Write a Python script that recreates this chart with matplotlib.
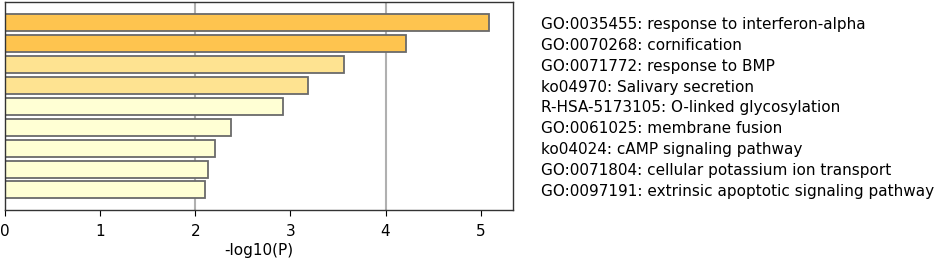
import matplotlib
matplotlib.use("Agg")
import matplotlib.pyplot as plt

plt.rcParams["font.family"] = ["DejaVu Sans"]

terms = [
    "GO:0035455: response to interferon-alpha",
    "GO:0070268: cornification",
    "GO:0071772: response to BMP",
    "ko04970: Salivary secretion",
    "R-HSA-5173105: O-linked glycosylation",
    "GO:0061025: membrane fusion",
    "ko04024: cAMP signaling pathway",
    "GO:0071804: cellular potassium ion transport",
    "GO:0097191: extrinsic apoptotic signaling pathway",
]
values = [5.09, 4.21, 3.56, 3.18, 2.92, 2.38, 2.21, 2.13, 2.10]
colors = ["#FEC44F", "#FEC44F", "#FEE391", "#FEE391",
          "#FFFFD4", "#FFFFD4", "#FFFFD4", "#FFFFD4", "#FFFFD4"]
xticks = [0, 1, 2, 3, 4, 5]
gridlines = [2, 4]

fig = plt.figure(figsize=(9.41, 2.6), dpi=100)
ax = fig.add_axes([5/941, 50/260, 508/941, 208/260])

ypos = list(range(len(terms)))
for g in gridlines:
    ax.axvline(g, color="#b0b0b0", lw=1.5, zorder=0)
ax.barh(ypos, values, height=0.81, color=colors, edgecolor="#6a6a6a",
        linewidth=1.3, zorder=2)

ax.set_xlim(0, 5.34)
ax.set_ylim(8.96, -1.0)
ax.set_xticks(xticks)
ax.set_xticklabels([str(t) for t in xticks], fontsize=11)
ax.set_xlabel("-log10(P)", fontsize=11, labelpad=3)
ax.yaxis.tick_right()
ax.set_yticks(ypos)
ax.set_yticklabels(terms, fontsize=11)
ax.tick_params(axis="y", length=0, pad=20)
ax.tick_params(axis="x", length=4, width=0.8, pad=6)
for s in ax.spines.values():
    s.set_linewidth(1.0)
    s.set_color("#333333")

fig.savefig("out.png", dpi=100)
